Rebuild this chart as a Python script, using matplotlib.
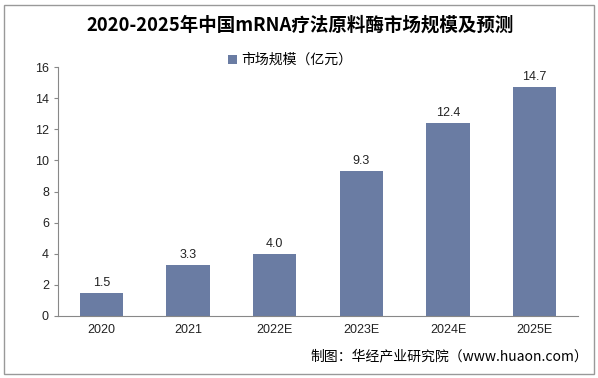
import matplotlib
matplotlib.use('Agg')
import matplotlib.pyplot as plt
from matplotlib.patches import Rectangle

plt.rcParams['font.family'] = ['Liberation Sans', 'Noto Sans CJK SC']

years = ['2020', '2021', '2022E', '2023E', '2024E', '2025E']
market = [1.5, 3.3, 4.0, 9.3, 12.4, 14.7]
title = '2020-2025年中国mRNA疗法原料酶市场规模及预测'
series_name = '市场规模（亿元）'
source = '制图：华经产业研究院（www.huaon.com）'

bar_color = '#6A7CA3'

fig = plt.figure(figsize=(5.98, 3.78), dpi=100)
ax = fig.add_axes([58 / 598, 1 - 316 / 378, 520 / 598, 249 / 378])

x = range(len(years))
bars = ax.bar(x, market, width=0.5, color=bar_color, label=series_name)
for b, v in zip(bars, market):
    ax.text(b.get_x() + b.get_width() / 2, v + 0.25, f'{v:.1f}',
            ha='center', va='bottom', fontsize=9, color='#222222')

ax.set_xlim(-0.5, len(years) - 0.5)
ax.set_ylim(0, 16)
ax.set_yticks(range(0, 17, 2))
ax.set_xticks(list(x))
ax.set_xticklabels(years)
ax.tick_params(axis='both', labelsize=9, colors='#222222', length=3, color='#888888')
ax.tick_params(axis='x', length=0, pad=6)
for s in ['top', 'right']:
    ax.spines[s].set_visible(False)
ax.spines['left'].set_color('#888888')
ax.spines['bottom'].set_color('#888888')

leg = fig.legend(loc='center', bbox_to_anchor=(290 / 598, 1 - 60 / 378), frameon=False,
                 fontsize=10, handlelength=0.6, handleheight=0.6, handletextpad=0.3)

fig.text(300 / 598, 1 - 25 / 378, title, ha='center', va='center', fontsize=13.3,
         fontweight='bold', family=['Noto Sans CJK SC', 'DejaVu Sans'])
fig.text(588 / 598, 1 - 356 / 378, source, ha='right', va='center', fontsize=10,
         family=['Noto Sans CJK SC', 'DejaVu Sans'])

fig.patches.append(Rectangle((4 / 598, 4 / 378), 590 / 598, 369 / 378, transform=fig.transFigure,
                             fill=False, edgecolor='#999999', linewidth=1))

fig.savefig('out.png', dpi=100)
